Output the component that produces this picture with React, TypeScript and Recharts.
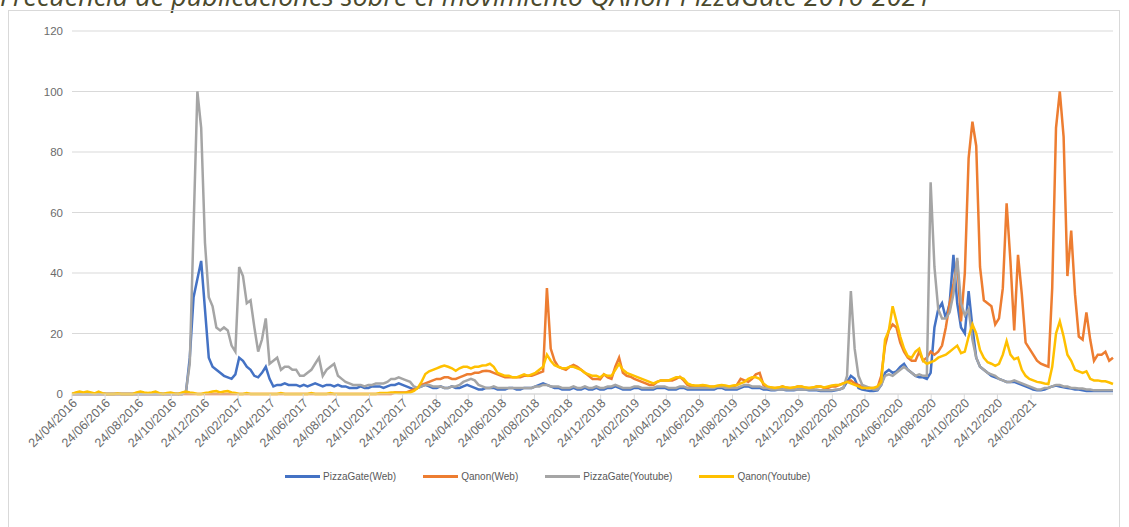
import React from 'react';
import { LineChart, Line, XAxis, YAxis, CartesianGrid } from 'recharts';

// Weekly samples starting on 24/04/2016
const START = Date.UTC(2016, 3, 24);
const WEEK = 7 * 24 * 3600 * 1000;

const tickLabels = [
  '24/04/2016', '24/06/2016', '24/08/2016', '24/10/2016', '24/12/2016',
  '24/02/2017', '24/04/2017', '24/06/2017', '24/08/2017', '24/10/2017', '24/12/2017',
  '24/02/2018', '24/04/2018', '24/06/2018', '24/08/2018', '24/10/2018', '24/12/2018',
  '24/02/2019', '24/04/2019', '24/06/2019', '24/08/2019', '24/10/2019', '24/12/2019',
  '24/02/2020', '24/04/2020', '24/06/2020', '24/08/2020', '24/10/2020', '24/12/2020',
  '24/02/2021',
];

const yTicks = [0, 20, 40, 60, 80, 100, 120];

const seriesNames = ['PizzaGate(Web)', 'Qanon(Web)', 'PizzaGate(Youtube)', 'Qanon(Youtube)'];
const seriesColors = ['#4472C4', '#ED7D31', '#A5A5A5', '#FFC000'];

const pizzaGateWeb = [
  0, 0, 0, 0, 0, 0, 0, 0, 0, 0,
  0, 0, 0, 0, 0, 0, 0, 0, 0, 0,
  0, 0, 0, 0, 0, 0, 0, 0, 0, 0,
  0.5, 12, 32, 38, 44, 28, 12, 9, 8, 7,
  6, 5.5, 5, 6.5, 12, 11, 9, 8, 6, 5.5,
  7, 9, 5, 2.5, 3, 3, 3.5, 3, 3, 3,
  2.5, 3, 2.5, 3, 3.5, 3, 2.5, 3, 3, 2.5,
  3, 2.5, 2.5, 2, 2, 2, 2.5, 2, 2, 2.5,
  2.5, 2.5, 2, 2.5, 3, 3, 3.5, 3, 2.5, 2,
  1.5, 2, 2.5, 3, 2.5, 2, 2, 2.5, 2, 2,
  2.5, 2, 2, 2.5, 3, 2.5, 2, 1.5, 1.5, 2,
  2, 2, 1.5, 1.5, 1.5, 2, 2, 1.5, 1.5, 2,
  2, 2, 2.5, 3, 3.5, 3, 2.5, 2, 2, 1.5,
  1.5, 1.5, 2, 1.5, 1.5, 2, 1.5, 1.5, 2, 1.5,
  1.5, 2, 2, 2.5, 2, 1.5, 1.5, 1.5, 2, 2,
  1.5, 1.5, 1.5, 1.5, 2, 2, 2, 1.5, 1.5, 1.5,
  2, 2, 1.5, 1.5, 1.5, 1.5, 1.5, 1.5, 1.5, 1.5,
  2, 2, 1.5, 1.5, 1.5, 1.5, 2, 2.5, 2.5, 2,
  2, 2, 1.5, 1.5, 1.2, 1.2, 1.5, 1.5, 1.2, 1.2,
  1.2, 1.5, 1.5, 1.5, 1.2, 1.2, 1.2, 1, 1, 1,
  1, 1.2, 1.5, 2, 4, 6, 5, 2, 1.5, 1.2,
  1, 1, 1.2, 3, 7, 8, 7, 7.5, 9, 10,
  8, 7, 6, 5.5, 5.5, 5, 7, 22, 28, 30,
  25, 30, 46, 30, 22, 20, 34, 22, 12, 9,
  8, 7, 6, 5.5, 5, 4.5, 4, 4, 4, 3.5,
  3, 2.5, 2, 1.5, 1.2, 1.2, 1.5, 2, 2.5, 2.8,
  2.5, 2.2, 2, 1.8, 1.5, 1.5, 1.2, 1, 1, 1,
  1, 1, 1, 1, 1,
];

const qanonWeb = [
  0, 0, 0, 0, 0, 0, 0, 0, 0, 0,
  0, 0, 0, 0, 0, 0, 0, 0, 0, 0,
  0, 0, 0, 0, 0, 0, 0, 0, 0, 0,
  0, 0, 0, 0, 0, 0, 0, 0, 0, 0,
  0, 0, 0, 0, 0, 0, 0, 0, 0, 0,
  0, 0, 0, 0, 0, 0, 0, 0, 0, 0,
  0, 0, 0, 0, 0, 0, 0, 0, 0, 0,
  0, 0, 0, 0, 0, 0, 0, 0, 0, 0,
  0, 0, 0, 0, 0, 0.5, 0.5, 0.5, 0.5, 1,
  1.5, 2, 3, 3.5, 4, 4.5, 5, 5, 5.5, 5.5,
  5, 5, 5.5, 6, 6.5, 6.5, 7, 7, 7.5, 7.7,
  7.5, 7, 6.5, 6, 5.5, 5.5, 5.5, 5.5, 5.5, 6,
  6, 6, 6.5, 7, 7.5, 35, 15, 11, 9, 8.5,
  8, 9, 9.6, 9, 8, 7, 6, 5, 5, 4.8,
  6.5, 5.5, 5, 9, 12, 7, 6, 5.7, 5, 4.5,
  4, 3.5, 3, 3, 4, 4.5, 4.5, 4.5, 4.5, 5,
  5.7, 4.5, 3, 2.5, 2.4, 2.4, 2.5, 2.4, 2.4, 2.4,
  2.4, 2.5, 2.4, 2.4, 2.5, 3, 5, 4.5, 4, 5,
  6.5, 7, 3, 2, 2, 2, 2, 2.5, 2, 2,
  2, 2.5, 2.5, 2, 2, 2, 2.5, 2.5, 2, 2,
  2.5, 2.5, 3, 3.5, 4, 4.5, 3.5, 3, 2.5, 2,
  2, 2, 2, 6, 16, 21, 23, 22, 17, 14,
  12, 11, 11, 14, 11, 12, 14, 13, 14, 16,
  22, 30, 36, 44, 24, 40, 78, 90, 82, 42,
  31, 30, 29, 23, 25, 35, 63, 44, 21, 46,
  33, 17, 15, 13, 11, 10, 9.5, 9, 35, 88,
  100, 85, 39, 54, 33, 19, 18, 27, 18, 11,
  13, 13, 14, 11, 12,
];

const pizzaGateYoutube = [
  0, 0, 0, 0, 0, 0, 0, 0, 0, 0,
  0, 0, 0, 0, 0, 0, 0, 0, 0, 0,
  0, 0, 0, 0, 0, 0, 0, 0, 0, 0,
  1, 10, 55, 100, 88, 50, 32, 29, 22, 21,
  22, 21, 16, 14, 42, 39, 30, 31, 22, 14,
  18, 25, 10, 11, 12, 8, 9, 9, 8, 8,
  6, 6, 7, 8, 10, 12, 6, 8, 9, 10,
  6, 5, 4, 3.5, 3, 3, 3, 2.5, 3, 3,
  3.5, 3.5, 3.5, 4, 5, 5, 5.5, 5, 4.5, 4,
  2.5, 2, 2.5, 3, 3, 2.5, 2.5, 2.5, 2, 2,
  2.5, 2.5, 3, 4, 4.5, 5, 4.5, 3, 2.5, 2,
  2, 2.5, 2, 2, 2, 2, 2, 2, 2, 2,
  2, 2, 2.5, 2.5, 3, 3, 2.5, 2.5, 2.5, 2,
  2, 2, 2.5, 2, 2, 2.5, 2, 2, 2.5, 2,
  2, 2.5, 2.5, 3, 2.5, 2, 2, 2, 2.5, 2.5,
  2, 2, 2, 2, 2.5, 2.5, 2.5, 2, 2, 2,
  2.5, 2.5, 2, 2, 2, 2, 2, 2, 2, 2,
  2.5, 2.5, 2, 2, 2, 2, 2.5, 3, 3, 2.5,
  2.5, 2.5, 2, 2, 1.5, 1.5, 1.5, 1.5, 1.5, 1.5,
  1.5, 1.5, 1.5, 1.5, 1.5, 1.5, 1.5, 1.2, 1.2, 1.2,
  1.2, 1.5, 1.5, 2, 6, 34, 15, 6, 3, 2.5,
  2, 1.5, 1.5, 3, 6, 6.5, 6, 7, 8, 9,
  8, 7, 6, 6.5, 6, 6, 70, 42, 28, 25,
  25, 27, 33, 45, 30, 26, 28, 18, 12, 9,
  8, 7, 6.5, 6, 5, 4.5, 4, 4, 4.5, 4,
  3.5, 3, 2.5, 2, 1.5, 1.5, 2, 2, 2.5, 3,
  3, 2.5, 2.5, 2, 2, 1.8, 1.8, 1.5, 1.5, 1.2,
  1.2, 1.2, 1.2, 1.2, 1.2,
];

const qanonYoutube = [
  0, 0.5, 0.8, 0.5, 0.8, 0.5, 0.2, 0.8, 0.3, 0,
  0, 0, 0.2, 0, 0, 0, 0, 0.5, 0.8, 0.5,
  0.3, 0.5, 0.8, 0.3, 0, 0.3, 0.5, 0.2, 0, 0.5,
  0.8, 0.5, 0.3, 0, 0, 0.3, 0.5, 0.8, 1, 0.5,
  0.8, 1, 0.5, 0.3, 0, 0, 0.3, 0, 0, 0,
  0, 0, 0, 0, 0, 0.3, 0, 0, 0, 0,
  0, 0, 0, 0.3, 0, 0, 0, 0, 0.3, 0,
  0, 0, 0, 0, 0, 0, 0, 0, 0, 0,
  0, 0.3, 0.3, 0.3, 0.5, 0.5, 0.3, 0.3, 0.5, 0.5,
  1, 2, 4, 6.6, 7.5, 8, 8.5, 9, 9.4, 9,
  8.5, 7.7, 8.5, 9, 9, 8.5, 9, 9, 9.4, 9.5,
  10, 9, 7, 6.5, 6, 6, 5.5, 5.5, 6, 6.5,
  6, 6.5, 7, 8, 9, 13, 11, 9.5, 9, 8.5,
  8.5, 9, 9, 8.5, 8, 7, 6.5, 6, 6, 5.5,
  6.5, 6, 6, 8, 10, 8, 7, 6.5, 6, 5.5,
  5, 4.5, 4, 3.5, 4, 4.5, 4.5, 4.5, 5, 5.5,
  5.5, 5, 3.5, 3, 2.8, 2.8, 3, 2.8, 2.5, 2.5,
  2.8, 3, 2.8, 2.5, 2.8, 3, 3.5, 4, 5, 5.5,
  5.5, 5, 3.5, 2.5, 2.2, 2, 2.2, 2.5, 2.2, 2,
  2.2, 2.5, 2.5, 2.2, 2, 2.2, 2.5, 2.5, 2.2, 2.5,
  2.8, 3, 3, 3.5, 4, 3.5, 3, 2.5, 2, 2,
  2, 2, 2.5, 4, 18, 21, 29, 24, 19, 15,
  12.5, 12, 14, 15, 11, 10, 10.5, 11, 12, 12.5,
  13, 14, 15, 16, 13.5, 14, 19, 23, 20, 14.5,
  12, 10.5, 10, 9.3, 10, 13, 17.5, 13, 11.5, 12,
  8, 6, 5, 4.5, 4, 3.8, 3.5, 3.3, 9, 20,
  24, 19, 13, 11, 8, 7.5, 7, 7.5, 5, 4.5,
  4.5, 4.2, 4.2, 3.8, 3.3,
];

const parseDate = (s: string) => {
  const [d, m, y] = s.split('/').map(Number);
  return Date.UTC(y, m - 1, d);
};
const tickValues = tickLabels.map(parseDate);

const data = pizzaGateWeb.map((v, i) => ({
  t: START + i * WEEK,
  pw: v,
  qw: qanonWeb[i],
  py: pizzaGateYoutube[i],
  qy: qanonYoutube[i],
}));

const seriesKeys = ['pw', 'qw', 'py', 'qy'];

const formatTick = (v: number) => {
  const idx = tickValues.indexOf(v);
  return idx >= 0 ? tickLabels[idx] : '';
};

const axisFont = '"Liberation Sans", Arial, sans-serif';

// Date labels slanted at 45°, right end hanging from the tick
function DateTick(props: any) {
  const { x, y, payload } = props;
  return (
    <g transform={`translate(${x + 3},${y})`}>
      <text
        x={0}
        y={0}
        dy={4}
        textAnchor="end"
        transform="rotate(-45)"
        fontSize={12.5}
        fontFamily={axisFont}
        fill="#6b6b6b"
      >
        {formatTick(payload.value)}
      </text>
    </g>
  );
}

function ChartLegend() {
  return (
    <div
      style={{
        position: 'absolute',
        top: 471,
        left: 285,
        display: 'flex',
        alignItems: 'center',
        gap: 27,
        fontFamily: axisFont,
        fontSize: 10,
        color: '#595959',
        whiteSpace: 'nowrap',
      }}
    >
      {seriesNames.map((name, i) => (
        <div key={name} style={{ display: 'flex', alignItems: 'center' }}>
          <span
            style={{
              display: 'inline-block',
              width: 35,
              height: 3,
              background: seriesColors[i],
              marginRight: 3,
            }}
          />
          <span>{name}</span>
        </div>
      ))}
    </div>
  );
}

export default function App() {
  return (
    <div
      style={{
        position: 'absolute',
        left: 0,
        top: 0,
        width: 1129,
        height: 527,
        overflow: 'hidden',
        background: '#ffffff',
      }}
    >
      <div
        style={{
          position: 'absolute',
          left: 0,
          top: -22,
          fontFamily: '"Open Sans", sans-serif',
          fontStyle: 'italic',
          fontSize: 27,
          lineHeight: '36px',
          color: '#4b4a2d',
          whiteSpace: 'nowrap',
        }}
      >
        Frecuencia de publicaciones sobre el movimiento QAnon-PizzaGate 2016-2021
      </div>
      <div
        style={{
          position: 'absolute',
          left: 8,
          top: 10,
          width: 1112,
          height: 530,
          border: '1px solid #d9d9d9',
          boxSizing: 'border-box',
        }}
      />
      <div style={{ position: 'absolute', left: 0, top: 0 }}>
        <LineChart
          width={1129}
          height={527}
          data={data}
          margin={{ top: 31, right: 16, left: 0, bottom: 0 }}
        >
          <CartesianGrid vertical={false} stroke="#d9d9d9" strokeWidth={1} />
          <XAxis
            dataKey="t"
            type="number"
            domain={[data[0].t, data[data.length - 1].t]}
            ticks={tickValues}
            interval={0}
            height={133}
            tickSize={5}
            tickMargin={2}
            axisLine={{ stroke: '#d9d9d9' }}
            tickLine={{ stroke: '#d9d9d9' }}
            tick={<DateTick />}
          />
          <YAxis
            domain={[0, 120]}
            ticks={yTicks}
            width={72}
            axisLine={false}
            tickLine={false}
            tickSize={0}
            tickMargin={9}
            tick={{ fontSize: 11.5, fill: '#6b6b6b', fontFamily: axisFont }}
          />
          {seriesKeys.map((k, i) => (
            <Line
              key={k}
              type="linear"
              dataKey={k}
              name={seriesNames[i]}
              stroke={seriesColors[i]}
              strokeWidth={2.5}
              dot={false}
              isAnimationActive={false}
            />
          ))}
        </LineChart>
      </div>
      <ChartLegend />
    </div>
  );
}
